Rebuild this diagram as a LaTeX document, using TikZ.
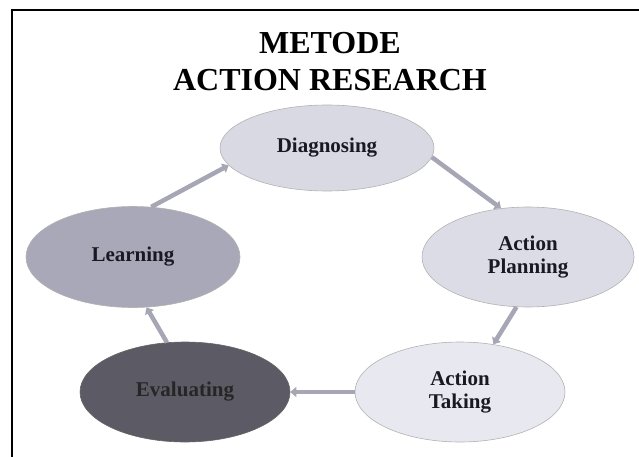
\documentclass[tikz,border=0pt]{standalone}
\usepackage{fontspec}
\setmainfont{Liberation Serif}
\usetikzlibrary{shapes.geometric,arrows.meta}
\definecolor{diagfill}{RGB}{217,217,228}
\definecolor{planfill}{RGB}{220,220,230}
\definecolor{takefill}{RGB}{232,232,240}
\definecolor{learnfill}{RGB}{168,168,184}
\definecolor{evalfill}{RGB}{92,90,100}
\definecolor{arrowgray}{RGB}{166,166,180}
\definecolor{inkdark}{RGB}{25,25,35}
\tikzset{
  bub/.style={ellipse, draw=gray!60, line width=0.6pt, inner sep=0pt,
    align=center, text=inkdark, font=\fontsize{21}{23}\selectfont\bfseries},
  cyc/.style={draw=arrowgray, line width=4.5pt,
    -{Triangle[length=6pt,width=10pt]}}
}
\begin{document}
\begin{tikzpicture}[x=1pt,y=-1pt]
\useasboundingbox (0,0) rectangle (639,457);
\draw[line width=2pt] (639,10) -- (12,10) -- (12,457);

\node[font=\fontsize{32}{37}\selectfont\bfseries, align=center] (title) at (330,62) {METODE\\ACTION RESEARCH};

\node[bub, fill=diagfill, minimum width=214pt, minimum height=86pt] (diag) at (327,148) {Diagnosing};
\node[bub, fill=planfill, minimum width=212pt, minimum height=100pt] (plan) at (528,257) {Action\\Planning};
\node[bub, fill=takefill, minimum width=210pt, minimum height=100pt] (take) at (460,392) {Action\\Taking};
\node[bub, fill=evalfill, draw=gray!80!black, text=black!85, minimum width=210pt, minimum height=100pt] (eval) at (185,392) {Evaluating};
\node[bub, fill=learnfill, minimum width=214pt, minimum height=101pt] (learn) at (133,257) {Learning};

\draw[cyc] (diag.355) -- (plan.119);
\draw[cyc] (plan.257) -- (take.55);
\draw[cyc] (take.180) -- (eval.0);
\draw[cyc] (eval.110) -- (learn.285);
\draw[cyc] (learn.70) -- (diag.190);
\end{tikzpicture}
\end{document}
